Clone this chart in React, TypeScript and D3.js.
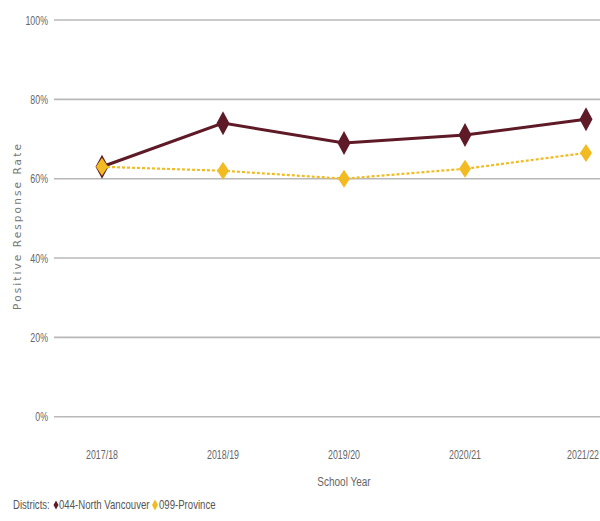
import React from "react";
import * as d3 from "d3";

const years = ["2017/18", "2018/19", "2019/20", "2020/21", "2021/22"];
const northVan = [63, 74, 69, 71, 75];
const province = [63, 62, 60, 62.5, 66.5];
const yTicks = [0, 20, 40, 60, 80, 100];

const W = 600;
const H = 521;
const FONT = "'Liberation Sans', Arial, sans-serif";
const MAROON = "#5e1a26";
const GOLD = "#f2bb22";
const SX = 0.68;

function diamond(cx: number, cy: number, w: number, h: number) {
  return `M${cx},${cy - h / 2}L${cx + w / 2},${cy}L${cx},${cy + h / 2}L${cx - w / 2},${cy}Z`;
}

function Narrow(props: { x: number; y: number; anchor?: string; size?: number; sx?: number; fill?: string; children: React.ReactNode }) {
  const { x, y, anchor = "start", size = 13, sx = SX, fill = "#666", children } = props;
  return (
    <g transform={`translate(${x},${y}) scale(${sx},1)`}>
      <text x={0} y={0} dy="0.35em" textAnchor={anchor} fontFamily={FONT} fontSize={size} fill={fill}>
        {children}
      </text>
    </g>
  );
}

export default function App() {
  const x = d3.scalePoint<string>().domain(years).range([102, 586]);
  const y = d3.scaleLinear().domain([0, 100]).range([416.7, 20]);
  const line = d3
    .line<number>()
    .x((_, i) => x(years[i]) as number)
    .y((d) => y(d));

  return (
    <svg
      width={W}
      height={H}
      style={{ position: "absolute", left: 0, top: 0, background: "#fff" }}
    >
      {yTicks.map((t) => (
        <g key={t}>
          <line x1={54} x2={600} y1={y(t)} y2={y(t)} stroke="#b8b8b8" strokeWidth={1.6} />
          <Narrow x={48} y={y(t)} anchor="end">{t}%</Narrow>
        </g>
      ))}
      <text
        transform={`translate(17,226) rotate(-90)`}
        textAnchor="middle"
        dy="0.35em"
        fontFamily="'DejaVu Sans', sans-serif"
        fontSize={10.5}
        letterSpacing={2.1}
        fill="#777"
      >
        Positive Response Rate
      </text>
      {years.map((yr, i) =>
        i === years.length - 1 ? (
          <Narrow key={yr} x={599} y={454} anchor="end">{yr}</Narrow>
        ) : (
          <Narrow key={yr} x={x(yr) as number} y={454} anchor="middle">{yr}</Narrow>
        )
      )}
      <Narrow x={344} y={481} anchor="middle" size={13.5} sx={0.74}>School Year</Narrow>

      <path d={line(northVan) || ""} fill="none" stroke={MAROON} strokeWidth={3} />
      {northVan.map((v, i) => (
        <path key={"n" + i} d={diamond(x(years[i]) as number, y(v), 13, 24)} fill={MAROON} />
      ))}
      <path d={line(province) || ""} fill="none" stroke={GOLD} strokeWidth={2.2} strokeDasharray="3,2" />
      {province.map((v, i) => (
        <path key={"p" + i} d={diamond(x(years[i]) as number, y(v), 12, 18)} fill={GOLD} />
      ))}

      <Narrow x={13} y={505} size={12} sx={0.8} fill="#555">Districts:</Narrow>
      <path d={diamond(56, 505, 5, 9)} fill={MAROON} />
      <Narrow x={59} y={505} size={12} sx={0.8} fill="#555">044-North Vancouver</Narrow>
      <path d={diamond(155, 505, 6, 11)} fill={GOLD} />
      <Narrow x={159} y={505} size={12} sx={0.8} fill="#555">099-Province</Narrow>
    </svg>
  );
}
